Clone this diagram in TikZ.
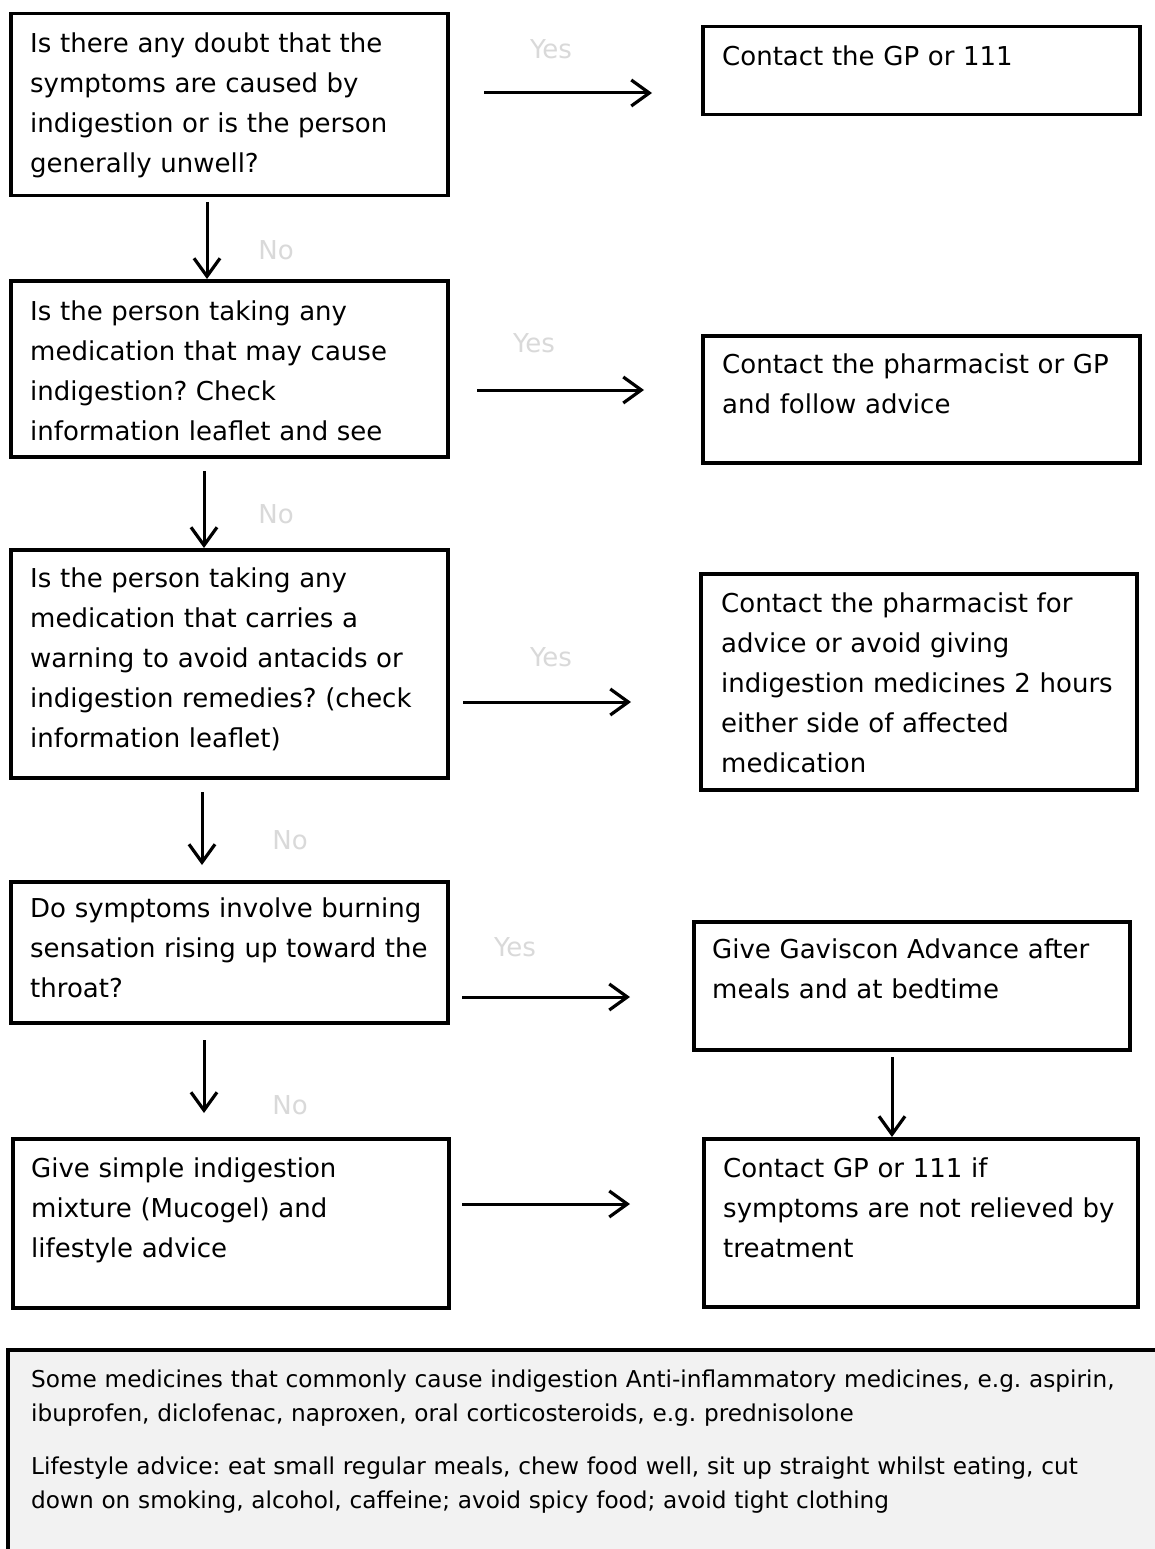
\documentclass[tikz,border=0pt]{standalone}
\usepackage{fontspec}
\setmainfont{DejaVu Sans}
\usetikzlibrary{arrows.meta}
\definecolor{lbl}{HTML}{D9D9D9}
\definecolor{notebg}{HTML}{F2F2F2}
\frenchspacing
\tikzset{
  box/.style={draw, line width=3.5pt, rectangle, inner sep=0pt, anchor=north west},
  txt/.style={anchor=north west, inner sep=0pt, align=left, text width=#1,
              font=\fontsize{26}{40}\selectfont\frenchspacing},
  txt/.default=430pt,
  note/.style={anchor=north west, inner sep=0pt, align=left, text width=1110pt,
              font=\fontsize{23.2}{34}\selectfont\frenchspacing},
  lab/.style={text=lbl, inner sep=0pt, font=\fontsize{26}{30}\selectfont},
  arr/.style={line width=3pt, -{Straight Barb[length=18pt,width=26pt,line width=3.2pt]}},
}
\newcommand\fl{\noindent\rule{0pt}{30pt}}
\begin{document}
\begin{tikzpicture}[x=1pt,y=-1pt]
\clip (0,0) rectangle (1155,1549);
\fill[white] (0,0) rectangle (1155,1549);

% left column boxes
\node[box, minimum width=437pt, minimum height=182pt] (b1) at (9,12) {};
\node[box, minimum width=437pt, minimum height=176pt] (b2) at (9,279) {};
\node[box, minimum width=437pt, minimum height=228pt] (b3) at (9,548) {};
\node[box, minimum width=437pt, minimum height=141pt] (b4) at (9,880) {};
\node[box, minimum width=436pt, minimum height=169pt] (b5) at (11,1137) {};
% right column boxes
\node[box, minimum width=437pt, minimum height=88pt] (r1) at (701,25) {};
\node[box, minimum width=437pt, minimum height=127pt] (r2) at (701,334) {};
\node[box, minimum width=436pt, minimum height=216pt] (r3) at (699,572) {};
\node[box, minimum width=436pt, minimum height=128pt] (r4) at (692,920) {};
\node[box, minimum width=434pt, minimum height=168pt] (r5) at (702,1137) {};

% texts
\node[txt] (t1) at (30,22) {\fl Is there any doubt that the\\symptoms are caused by\\indigestion or is the person\\generally unwell?};
\node[txt] (t2) at (30,290) {\fl Is the person taking any\\medication that may cause\\indigestion? Check\\information leaflet and see};
\node[txt] (t3) at (30,557) {\fl Is the person taking any\\medication that carries a\\warning to avoid antacids or\\indigestion remedies? (check\\information leaflet)};
\node[txt] (t4) at (30,887) {\fl Do symptoms involve burning\\sensation rising up toward the\\throat?};
\node[txt] (t5) at (31,1147) {\fl Give simple indigestion\\mixture (Mucogel) and\\lifestyle advice};
\node[txt=410pt] (u1) at (722,35) {\fl Contact the GP or 111};
\node[txt=410pt] (u2) at (722,343) {\fl Contact the pharmacist or GP\\and follow advice};
\node[txt=410pt] (u3) at (721,582) {\fl Contact the pharmacist for\\advice or avoid giving\\indigestion medicines 2 hours\\either side of affected\\medication};
\node[txt=410pt] (u4) at (712,928) {\fl Give Gaviscon Advance after\\meals and at bedtime};
\node[txt=410pt] (u5) at (723,1147) {\fl Contact GP or 111 if\\symptoms are not relieved by\\treatment};

% Yes / No labels
\node[lab] (y1) at (551,49) {Yes};
\node[lab] (y2) at (534,343) {Yes};
\node[lab] (y3) at (551,657) {Yes};
\node[lab] (y4) at (515,947) {Yes};
\node[lab] (n1) at (276,250) {No};
\node[lab] (n2) at (276,514) {No};
\node[lab] (n3) at (290,840) {No};
\node[lab] (n4) at (290,1105) {No};

% horizontal arrows
\coordinate (a1s) at (484,93);  \coordinate (a1e) at (652,93);
\coordinate (a2s) at (477,390); \coordinate (a2e) at (644,390);
\coordinate (a3s) at (463,702); \coordinate (a3e) at (631,702);
\coordinate (a4s) at (462,997); \coordinate (a4e) at (630,997);
\coordinate (a5s) at (462,1204);\coordinate (a5e) at (630,1204);
\draw[arr] (a1s) -- (a1e);
\draw[arr] (a2s) -- (a2e);
\draw[arr] (a3s) -- (a3e);
\draw[arr] (a4s) -- (a4e);
\draw[arr] (a5s) -- (a5e);

% vertical arrows
\coordinate (d1s) at (207,202);
\coordinate (d2s) at (204,471);
\coordinate (d3s) at (202,792); \coordinate (d3e) at (202,865);
\coordinate (d4s) at (204,1040);\coordinate (d4e) at (204,1113);
\coordinate (d5s) at (892,1057);
\draw[arr] (d1s) -- (d1s |- b2.north);
\draw[arr] (d2s) -- (d2s |- b3.north);
\draw[arr] (d3s) -- (d3e);
\draw[arr] (d4s) -- (d4e);
\draw[arr] (d5s) -- (d5s |- r5.north);

% bottom note
\node[draw, line width=4pt, fill=notebg, rectangle, anchor=north west, inner sep=0pt,
      minimum width=1200pt, minimum height=260pt] (nb) at (6,1348) {};
\node[note] (p1) at (31,1357) {\noindent\rule{0pt}{30pt}Some medicines that commonly cause indigestion Anti-inflammatory medicines, e.g. aspirin,\\ibuprofen, diclofenac, naproxen, oral corticosteroids, e.g. prednisolone};
\node[note] (p2) at (31,1444) {\noindent\rule{0pt}{30pt}Lifestyle advice: eat small regular meals, chew food well, sit up straight whilst eating, cut\\down on smoking, alcohol, caffeine; avoid spicy food; avoid tight clothing};
\end{tikzpicture}
\end{document}
